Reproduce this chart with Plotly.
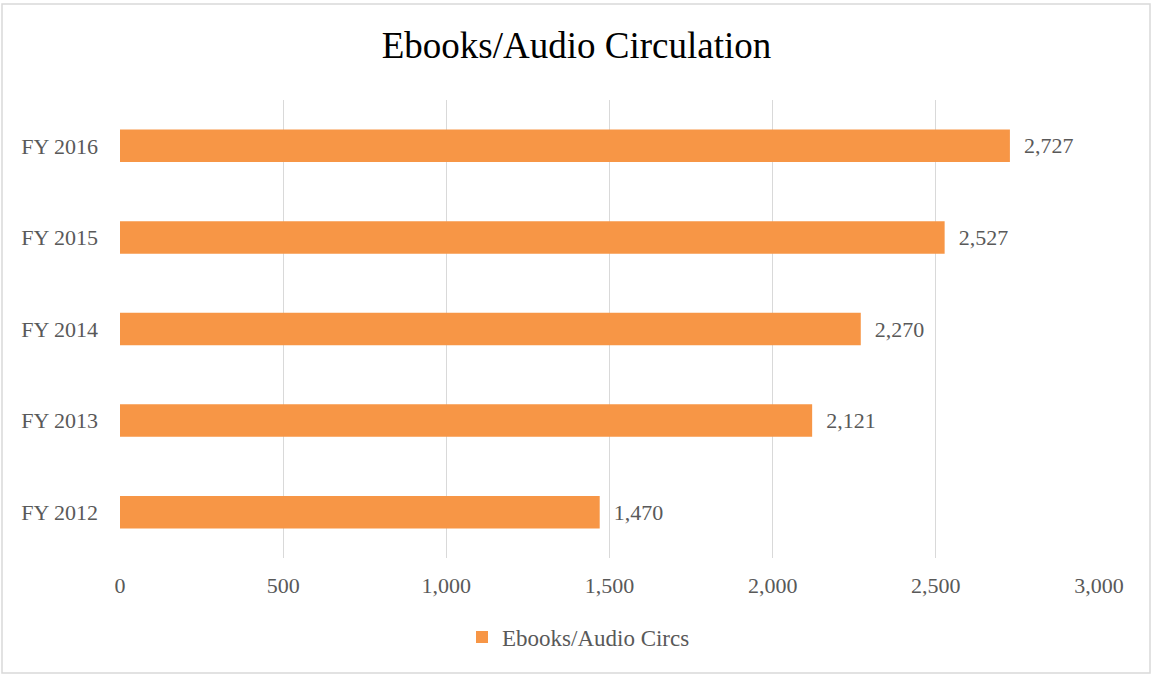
import plotly.graph_objects as go

categories = ["FY 2012", "FY 2013", "FY 2014", "FY 2015", "FY 2016"]
values = [1470, 2121, 2270, 2527, 2727]
tick_vals = [0, 500, 1000, 1500, 2000, 2500, 3000]
tick_text = ["0", "500", "1,000", "1,500", "2,000", "2,500", "3,000"]
series_name = "Ebooks/Audio Circs"
title_text = "Ebooks/Audio Circulation"

W, H = 1153, 675
L, R, T, B = 120, 54, 100, 117
FONT = "Liberation Serif"
GREY = "#595959"

fig = go.Figure()
fig.add_trace(go.Bar(
    y=categories, x=values, orientation="h", name=series_name,
    marker=dict(color="#F79646", line=dict(width=0)),
    text=["\u00a0\u00a0" + f"{v:,}" for v in values], textposition="outside",
    textfont=dict(family=FONT, size=22, color=GREY),
    cliponaxis=False,
))

fig.update_layout(
    width=W, height=H,
    margin=dict(l=L, r=R, t=T, b=B),
    paper_bgcolor="white", plot_bgcolor="white",
    bargap=0.645,
    showlegend=True,
    title=dict(text=title_text, x=0.5, xanchor="center", y=1 - 45 / H, yanchor="middle",
               font=dict(family=FONT, size=37, color="#000000")),
    legend=dict(orientation="h", x=0.5 - 31 / (W - L - R), xanchor="center",
                y=-(637 - (H - B)) / (H - T - B),
                yanchor="middle", font=dict(family=FONT, size=23, color=GREY),
                itemwidth=30),
    xaxis=dict(range=[0, 3000], tickvals=tick_vals, ticktext=tick_text,
               showgrid=True, gridcolor="#D9D9D9", gridwidth=1, zeroline=False,
               showline=False, ticks="", ticklen=0, ticklabelstandoff=12,
               tickfont=dict(family=FONT, size=22, color=GREY)),
    yaxis=dict(showgrid=False, zeroline=False, showline=False, ticks="",
               ticklabelstandoff=21,
               tickfont=dict(family=FONT, size=22, color=GREY)),
    font=dict(family=FONT),
)

pw = W - L - R
ph = H - T - B
fig.add_shape(type="rect", xref="paper", yref="paper",
              x0=(2 - L) / pw, x1=(W - 3 - L) / pw,
              y0=(H - B - (H - 2)) / ph, y1=(H - B - 4) / ph,
              line=dict(color="#D9D9D9", width=1.5), fillcolor="rgba(0,0,0,0)", layer="below")

fig.write_html("out.html")
